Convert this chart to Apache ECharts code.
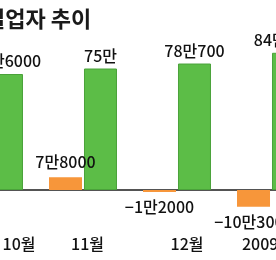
<!DOCTYPE html>
<html>
<head>
<meta charset="utf-8">
<script src="https://cdn.jsdelivr.net/npm/echarts@6/dist/echarts.min.js"></script>
<style>
html,body{margin:0;padding:0;background:#fff;}
#c{width:276px;height:260px;}
</style>
</head>
<body>
<div id="c"></div>
<script>
// Data (unit: 만 명)
var categories = ['10월', '11월', '12월', '2009년1월'];
var employedChange = [null, 7.8, -1.2, -10.3];      // 취업자 증감 (orange)
var unemployed = [71.6, 75.0, 78.07, 84.7];          // 실업자 (green)
var changeLabels = ['', '7만8000', '−1만2000', '−10만3000'];
var unemployedLabels = ['71만6000', '75만', '78만700', '84만7000'];

var FONT = '"Noto Sans CJK KR", "Noto Sans", sans-serif';
var labelShift = [60, 9, 20, 17];

var chart = echarts.init(document.getElementById('c'), null, {renderer: 'canvas'});

var orangeData = employedChange.map(function (v, i) {
  return {
    value: v,
    label: {
      position: v < 0 ? 'bottom' : 'top',
      distance: 7,
      formatter: changeLabels[i]
    }
  };
});
var greenData = unemployed.map(function (v, i) {
  return {value: v, label: {formatter: unemployedLabels[i]}};
});

var rich = {};
labelShift.forEach(function (s, i) {
  rich['c' + i] = {padding: [0, 0, 0, s], fontSize: 16, fontWeight: 500, fontFamily: FONT, color: '#111'};
});

chart.setOption({
  animation: false,
  backgroundColor: '#ffffff',
  graphic: [{
    type: 'text',
    x: -15,
    y: 8,
    style: {
      text: '실업자 추이',
      font: 'bold 22px ' + FONT,
      fill: '#1a1a1a'
    }
  }],
  grid: {left: -58, top: 28, width: 376, height: 194.4, containLabel: false, outerBoundsMode: 'none'},
  xAxis: [{
    type: 'category',
    data: categories,
    axisLine: {onZero: true, lineStyle: {color: '#1a1a1a', width: 1.5}},
    axisTick: {show: false},
    axisLabel: {show: false}
  }, {
    type: 'category',
    data: categories,
    position: 'bottom',
    axisLine: {show: false, onZero: false},
    axisTick: {show: false},
    axisLabel: {
      show: true,
      margin: 14,
      interval: 0,
      formatter: function (v, i) { return '{c' + i + '|' + v + '}'; },
      rich: rich
    }
  }],
  yAxis: {
    type: 'value',
    min: -20,
    max: 100,
    show: false,
    splitLine: {show: false}
  },
  series: [
    {
      type: 'bar',
      data: orangeData,
      barWidth: 33,
      barGap: '6%',
      itemStyle: {color: '#f7963a'},
      label: {show: true, fontSize: 16, fontWeight: 500, fontFamily: FONT, color: '#111'}
    },
    {
      type: 'bar',
      data: greenData,
      barWidth: 33,
      itemStyle: {color: '#5cbd47', borderColor: '#4aa23a', borderWidth: 1},
      label: {show: true, position: 'top', distance: 5, fontSize: 16, fontWeight: 500, fontFamily: FONT, color: '#111'}
    }
  ]
});
</script>
</body>
</html>
